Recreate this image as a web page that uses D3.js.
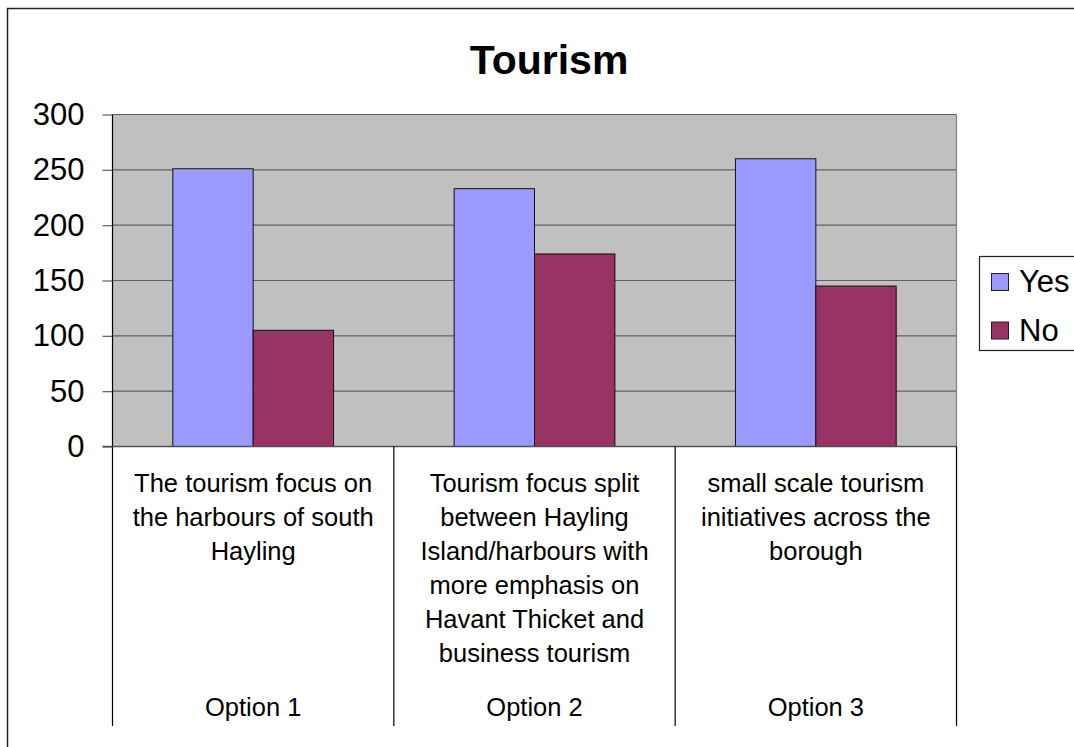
<!DOCTYPE html>
<html>
<head>
<meta charset="utf-8">
<script src="https://cdn.jsdelivr.net/npm/d3@7"></script>
<style>
  body { margin: 0; background: #fff; }
  svg { display: block; font-family: "Liberation Sans", Arial, sans-serif; }
</style>
</head>
<body>
<div id="chart"></div>
<script>
// data
var categories = ["Option 1", "Option 2", "Option 3"];
var categoryText = [
    ["The tourism focus on", "the harbours of south", "Hayling"],
    ["Tourism focus split", "between Hayling", "Island/harbours with", "more emphasis on", "Havant Thicket and", "business tourism"],
    ["small scale tourism", "initiatives across the", "borough"]
];
var series = ["Yes", "No"];
var yesValues = [251, 233, 260];
var noValues = [105, 174, 145];
var yTicks = [0, 50, 100, 150, 200, 250, 300];
var colors = { Yes: "#9999FF", No: "#993366" };

var width = 1074;
var height = 747;

var svg = d3.select('#chart')
    .append('svg')
    .attr('width', width)
    .attr('height', height);

// outer chart border
svg.append('rect')
    .attr('x', 7.5)
    .attr('y', 8.5)
    .attr('width', 1080)
    .attr('height', 760)
    .attr('fill', 'white')
    .attr('stroke', '#222')
    .attr('stroke-width', 1.5);

var plotLeft = 112.5, plotRight = 956.5, plotTop = 114.5, plotBottom = 446.5;

var xscale = d3.scaleBand()
    .domain(categories)
    .range([plotLeft, plotRight])
    .padding(0);

var xinner = d3.scaleBand()
    .domain(series)
    .range([0, xscale.bandwidth()])
    .paddingInner(0)
    .paddingOuter(0.75);

var yscale = d3.scaleLinear()
    .domain([0, 300])
    .range([plotBottom, plotTop]);

// plot background
svg.append('rect')
    .attr('x', plotLeft)
    .attr('y', plotTop)
    .attr('width', plotRight - plotLeft)
    .attr('height', plotBottom - plotTop)
    .attr('fill', '#C0C0C0');

// gridlines
svg.append('g')
    .selectAll('line')
    .data(yTicks)
    .enter()
    .append('line')
    .attr('x1', plotLeft)
    .attr('x2', plotRight)
    .attr('y1', d => yscale(d))
    .attr('y2', d => yscale(d))
    .attr('stroke', '#606060')
    .attr('stroke-width', 1.2);

// plot right border
svg.append('line')
    .attr('x1', plotRight).attr('x2', plotRight)
    .attr('y1', plotTop).attr('y2', plotBottom)
    .attr('stroke', '#808080')
    .attr('stroke-width', 1.2);

// bars
var rows = categories.map(function (c, i) {
    return { category: c, Yes: yesValues[i], No: noValues[i] };
});

var groups = svg.append('g')
    .selectAll('g')
    .data(rows)
    .enter()
    .append('g')
    .attr('transform', d => 'translate(' + xscale(d.category) + ',0)');

groups.selectAll('rect')
    .data(d => series.map(s => ({ key: s, value: d[s] })))
    .enter()
    .append('rect')
    .attr('x', d => xinner(d.key))
    .attr('y', d => yscale(d.value))
    .attr('width', xinner.bandwidth())
    .attr('height', d => yscale(0) - yscale(d.value))
    .attr('fill', d => colors[d.key])
    .attr('stroke', '#111')
    .attr('stroke-width', 1);

// y axis
var yaxis = d3.axisLeft(yscale)
    .tickValues(yTicks)
    .tickSize(10)
    .tickPadding(18);

var yg = svg.append('g')
    .attr('transform', 'translate(' + plotLeft + ',0)')
    .call(yaxis);

yg.select('.domain').remove();
yg.selectAll('.tick line').attr('stroke', '#606060').attr('stroke-width', 1.2);
yg.selectAll('.tick text')
    .style('font-size', '31px')
    .style('font-family', '"Liberation Sans", Arial, sans-serif')
    .attr('fill', '#000');

svg.append('line')
    .attr('x1', plotLeft).attr('x2', plotLeft)
    .attr('y1', plotTop).attr('y2', 726)
    .attr('stroke', '#000')
    .attr('stroke-width', 1.2);

// x axis line
svg.append('line')
    .attr('x1', plotLeft - 10).attr('x2', plotRight)
    .attr('y1', plotBottom).attr('y2', plotBottom)
    .attr('stroke', '#505050')
    .attr('stroke-width', 1.5);

// category separators below axis
svg.append('g')
    .selectAll('line')
    .data(categories)
    .enter()
    .append('line')
    .attr('x1', d => xscale(d) + xscale.bandwidth())
    .attr('x2', d => xscale(d) + xscale.bandwidth())
    .attr('y1', plotBottom)
    .attr('y2', 726)
    .attr('stroke', '#000')
    .attr('stroke-width', 1.2);

// category descriptions
var descs = svg.append('g')
    .selectAll('text')
    .data(categories)
    .enter()
    .append('text')
    .attr('text-anchor', 'middle')
    .style('font-size', '25.5px');

descs.selectAll('tspan')
    .data((d, i) => categoryText[i].map(t => ({ t: t, c: d })))
    .enter()
    .append('tspan')
    .attr('x', d => xscale(d.c) + xscale.bandwidth() / 2)
    .attr('y', (d, j) => 492 + j * 34)
    .text(d => d.t);

// option labels
svg.append('g')
    .selectAll('text')
    .data(categories)
    .enter()
    .append('text')
    .attr('x', d => xscale(d) + xscale.bandwidth() / 2)
    .attr('y', 716)
    .attr('text-anchor', 'middle')
    .style('font-size', '25.5px')
    .text(d => d);

// title
svg.append('text')
    .attr('x', 549)
    .attr('y', 74)
    .attr('text-anchor', 'middle')
    .style('font-size', '41px')
    .style('font-weight', 'bold')
    .text('Tourism');

// legend
var legend = svg.append('g');

legend.append('rect')
    .attr('x', 979.5)
    .attr('y', 256.5)
    .attr('width', 120)
    .attr('height', 94)
    .attr('fill', 'white')
    .attr('stroke', '#222')
    .attr('stroke-width', 1.2);

var items = legend.selectAll('g')
    .data(series)
    .enter()
    .append('g')
    .attr('transform', (d, i) => 'translate(0,' + (i * 48.5) + ')');

items.append('rect')
    .attr('x', 991.5)
    .attr('y', 273.5)
    .attr('width', 17)
    .attr('height', 17)
    .attr('fill', d => colors[d])
    .attr('stroke', '#222')
    .attr('stroke-width', 1);

items.append('text')
    .attr('x', 1019)
    .attr('y', 292)
    .style('font-size', '31px')
    .text(d => d);
</script>
</body>
</html>
